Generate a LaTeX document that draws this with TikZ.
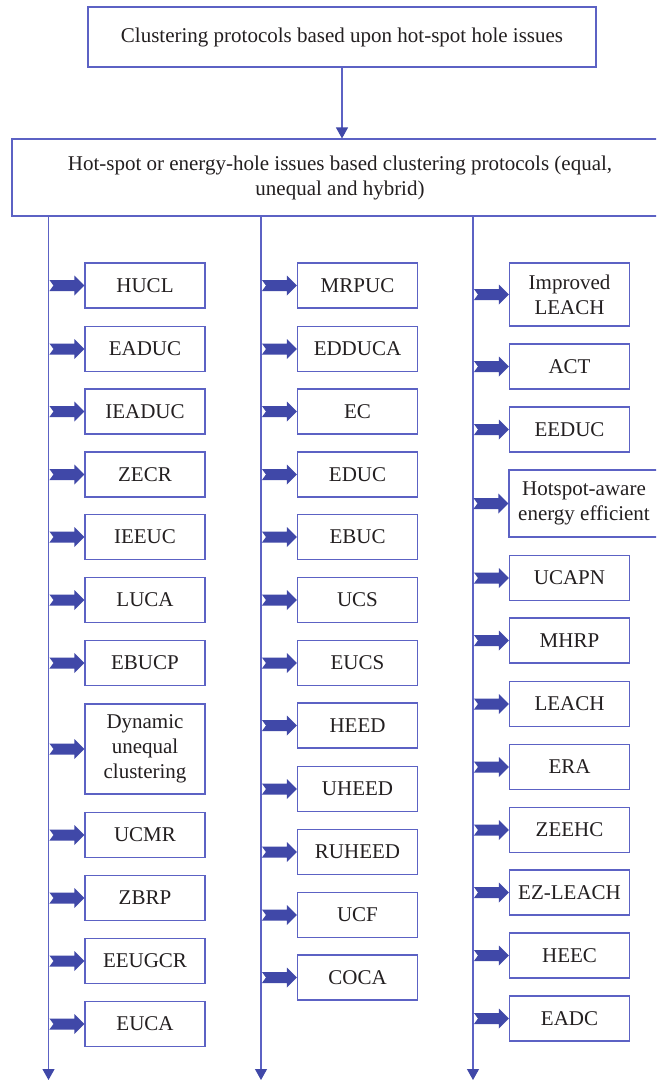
\documentclass[tikz,border=0pt]{standalone}
\usepackage{fontspec}
\setmainfont{Liberation Serif}
\usetikzlibrary{arrows.meta}
\definecolor{linec}{RGB}{92,98,196}
\definecolor{arrowc}{RGB}{64,72,168}
\definecolor{txtc}{RGB}{35,31,32}
\newcommand\blockarrow[1]{%
  \fill[arrowc] ([xshift=-35pt,yshift=5.5pt]#1.west) -- ([xshift=-10pt,yshift=5.5pt]#1.west)
   -- ([xshift=-10pt,yshift=10pt]#1.west) -- (#1.west) -- ([xshift=-10pt,yshift=-10pt]#1.west)
   -- ([xshift=-10pt,yshift=-5.5pt]#1.west) -- ([xshift=-35pt,yshift=-5.5pt]#1.west)
   -- ([xshift=-31pt]#1.west) -- cycle;}
\begin{document}
\begin{tikzpicture}[x=1pt,y=-1pt,
  box/.style={draw=linec,line width=1.1pt,text=txtc,minimum width=120pt,minimum height=45pt,
    inner sep=0pt,align=center,font=\fontsize{21}{25}\selectfont},
  conn/.style={draw=linec,line width=1.1pt,-{Triangle[width=12pt,length=11pt,color=arrowc]}}]
\clip (0,0) rectangle (656,1081);
\fill[white] (0,0) rectangle (656,1081);
\node[box,minimum width=508pt,minimum height=60pt] (top) at (342,37) {Clustering protocols based upon hot-spot hole issues};
\node[box,minimum width=656pt,minimum height=77pt] (main) at (340,177.5) {Hot-spot or energy-hole issues based clustering protocols (equal,\\unequal and hybrid)};
\draw[conn] (top.south) -- (top.south |- main.north);
% vertical distribution lines
\coordinate (v1s) at (48.5,216); \coordinate (v1e) at (48.5,1080);
\coordinate (v2s) at (261,216);  \coordinate (v2e) at (261,1080);
\coordinate (v3s) at (473,216);  \coordinate (v3e) at (473,1080);
\draw[conn] (v1s) -- (v1e);
\draw[conn] (v2s) -- (v2e);
\draw[conn] (v3s) -- (v3e);
% column 1
\foreach \t/\y [count=\i] in {HUCL/285.5,EADUC/349,IEADUC/411.5,ZECR/474.5,IEEUC/537,LUCA/600,EBUCP/663,UCMR/835,ZBRP/898,EEUGCR/961,EUCA/1024}{
  \node[box] (a\i) at (145,\y) {\t}; \blockarrow{a\i}}
\node[box,minimum height=90pt] (dyn) at (145,749) {Dynamic\\unequal\\clustering}; \blockarrow{dyn}
% column 2
\foreach \t/\y [count=\i] in {MRPUC/285.5,EDDUCA/349,EC/411.5,EDUC/474.5,EBUC/537,UCS/600,EUCS/663,HEED/725.5,UHEED/789,RUHEED/852,UCF/915,COCA/977.5}{
  \node[box] (b\i) at (357.5,\y) {\t}; \blockarrow{b\i}}
% column 3
\node[box,minimum height=63pt] (imp) at (569.5,294.5) {Improved\\LEACH}; \blockarrow{imp}
\node[box,minimum width=150pt,minimum height=67pt] (hot) at (584,503.5) {Hotspot-aware\\energy efficient}; \blockarrow{hot}
\foreach \t/\y [count=\i] in {ACT/366.5,EEDUC/429.5,UCAPN/578,MHRP/640.5,LEACH/704,ERA/767,ZEEHC/830,EZ-LEACH/892.5,HEEC/955.5,EADC/1018.5}{
  \node[box] (c\i) at (569.5,\y) {\t}; \blockarrow{c\i}}
\end{tikzpicture}
\end{document}
